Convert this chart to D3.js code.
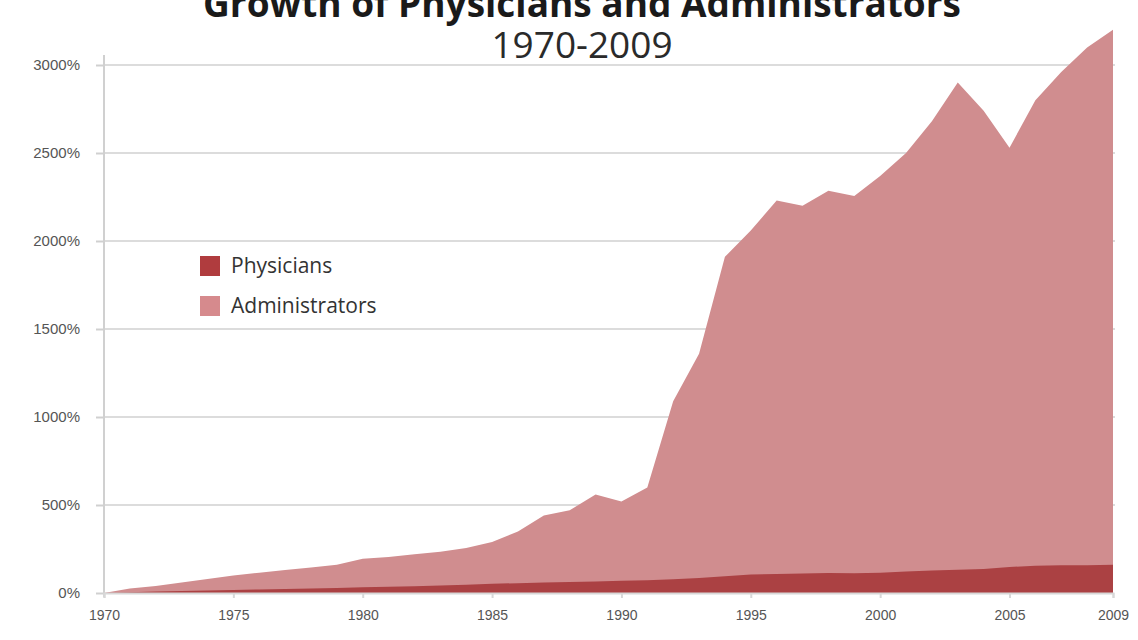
<!DOCTYPE html>
<html lang="en">
<head>
<meta charset="UTF-8">
<title>Growth of Physicians and Administrators</title>
<script src="https://cdn.jsdelivr.net/npm/d3@7"></script>
<style>
    body { margin: 0; background: white; }
    svg { display: block; font-family: "Open Sans", "DejaVu Sans", sans-serif; }
    .tick text { fill: #555; }
</style>
</head>
<body>
<svg id="chart" width="1138" height="640"></svg>
<script>
// values, growth in % since 1970
const years = d3.range(1970, 2010);
const physicians = [0, 4, 8, 11, 14, 17, 20, 23, 26, 29,
                    33, 36, 39, 43, 47, 52, 56, 60, 63, 66,
                    70, 73, 78, 85, 95, 105, 108, 111, 113, 112,
                    115, 122, 128, 132, 137, 148, 155, 158, 158, 160];
const administrators = [0, 25, 40, 60, 80, 100, 115, 130, 145, 160,
                        195, 205, 220, 235, 255, 290, 350, 440, 470, 560,
                        520, 600, 1090, 1360, 1910, 2060, 2230, 2200, 2285, 2255,
                        2370, 2500, 2680, 2900, 2740, 2530, 2800, 2960, 3100, 3200];
const xTicks = [1970, 1975, 1980, 1985, 1990, 1995, 2000, 2005, 2009];
const yTicks = [0, 500, 1000, 1500, 2000, 2500, 3000];

const svg = d3.select('#chart');
const plotLeft = 104, plotRight = 1113, plotTop = 65, plotBottom = 593;

const x = d3.scaleLinear().domain([1970, 2009]).range([plotLeft, plotRight]);
const y = d3.scaleLinear().domain([0, 3000]).range([plotBottom, plotTop]);

// gridlines
svg.append('g')
    .selectAll('line')
    .data(yTicks.slice(1))
    .join('line')
    .attr('x1', plotLeft).attr('x2', plotRight + 2)
    .attr('y1', d => y(d)).attr('y2', d => y(d))
    .attr('stroke', '#dcdcdc')
    .attr('stroke-width', 2);

// areas, administrators behind physicians
const area = vals => d3.area()
    .x((d, i) => x(years[i]))
    .y0(y(0))
    .y1(d => y(d))(vals);

svg.append('path').attr('d', area(administrators)).attr('fill', '#d08d8f');
svg.append('path').attr('d', area(physicians)).attr('fill', '#ab4143');

// y axis
const yAxis = svg.append('g')
    .attr('transform', `translate(${plotLeft},0)`)
    .call(d3.axisLeft(y).tickValues(yTicks).tickFormat(d => d + '%').tickSize(8).tickPadding(16));
yAxis.select('.domain').attr('stroke', '#d0d0d0').attr('stroke-width', 2).attr('d', `M0,${plotTop - 10}V${plotBottom + 4}`);
yAxis.selectAll('.tick line').attr('stroke', '#d0d0d0').attr('stroke-width', 2);
yAxis.selectAll('.tick text').attr('font-size', 15);

// x axis
const xAxis = svg.append('g')
    .attr('transform', `translate(0,${plotBottom})`)
    .call(d3.axisBottom(x).tickValues(xTicks).tickFormat(d3.format('d')).tickSize(5).tickPadding(12));
xAxis.select('.domain').attr('stroke', '#d8d8d8').attr('stroke-width', 2);
xAxis.selectAll('.tick line').attr('stroke', '#d8d8d8').attr('stroke-width', 2);
xAxis.selectAll('.tick text').attr('font-size', 14);

// title (top edge is cropped, as in the source image)
svg.append('text')
    .attr('x', 582).attr('y', 17)
    .attr('text-anchor', 'middle')
    .attr('font-size', 37).attr('font-weight', 'bold')
    .attr('fill', '#1a1a1a')
    .text('Growth of Physicians and Administrators');
svg.append('text')
    .attr('x', 582).attr('y', 58)
    .attr('text-anchor', 'middle')
    .attr('font-size', 37)
    .attr('fill', '#2a2a2a')
    .text('1970-2009');

// legend
const legendItems = [
    { name: 'Physicians', color: '#b03c3e' },
    { name: 'Administrators', color: '#d68a8d' }
];
const legend = svg.append('g').attr('transform', 'translate(200,256)');
legendItems.forEach((d, i) => {
    const row = legend.append('g').attr('transform', `translate(0,${i * 40})`);
    row.append('rect').attr('width', 20).attr('height', 20).attr('fill', d.color);
    row.append('text')
        .attr('x', 31).attr('y', 10)
        .attr('dy', '0.35em')
        .attr('font-size', 21)
        .attr('fill', '#333')
        .text(d.name);
});
</script>
</body>
</html>
